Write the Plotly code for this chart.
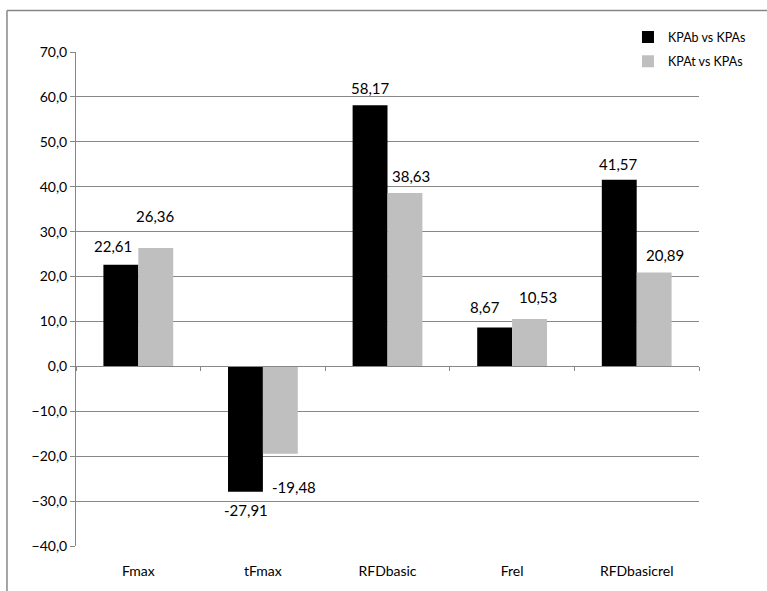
import plotly.graph_objects as go

# Percentage differences between the KPA conditions
categories = ["Fmax", "tFmax", "RFDbasic", "Frel", "RFDbasicrel"]
kpab_vs_kpas = [22.61, -27.91, 58.17, 8.67, 41.57]
kpat_vs_kpas = [26.36, -19.48, 38.63, 10.53, 20.89]
series_names = ["KPAb vs KPAs", "KPAt vs KPAs"]
y_ticks = list(range(-40, 71, 10))

# Pixel nudges for the value labels (dx right, dy away from the bar end)
label_nudge_b = [(-8, 19), (1, 18), (0, 17), (-10, 20), (-1, 16)]
label_nudge_t = [(0, 32), (14, 33), (6, 17), (8, 22), (11, 18)]

GRID = "#878787"
FONT = "Lato"
Y_MIN, Y_MAX = -40, 70

fig = go.Figure()
fig.add_trace(go.Bar(x=categories, y=kpab_vs_kpas, name=series_names[0],
                     marker=dict(color="#000000", line=dict(width=0)),
                     legendgroup="a"))
fig.add_trace(go.Bar(x=categories, y=kpat_vs_kpas, name=series_names[1],
                     marker=dict(color="#BFBFBF", line=dict(width=0)),
                     legendgroup="b"))
# carrier for the axis drawn along the zero line
fig.add_trace(go.Scatter(x=categories, y=[0] * len(categories), xaxis="x2",
                         mode="markers", marker=dict(opacity=0),
                         hoverinfo="skip", showlegend=False))

annotations = []
for values, nudges, shift in ((kpab_vs_kpas, label_nudge_b, -17.5),
                              (kpat_vs_kpas, label_nudge_t, 17.5)):
    for cat, v, (dx, dy) in zip(categories, values, nudges):
        annotations.append(dict(
            x=cat, y=v, xref="x", yref="y", showarrow=False,
            text=f"{v:.2f}".replace(".", ","),
            xshift=shift + dx, yshift=dy if v >= 0 else -dy,
            xanchor="center", yanchor="middle",
            font=dict(family=FONT, size=15, color="#000000")))
fig.update_layout(annotations=annotations)

zero_pos = (0 - Y_MIN) / (Y_MAX - Y_MIN)

fig.update_layout(
    width=767, height=591,
    margin=dict(l=76, r=68, t=52, b=39),
    paper_bgcolor="white", plot_bgcolor="white",
    separators=", ",
    barmode="group", bargap=0.44, bargroupgap=0,
    font=dict(family=FONT, size=13, color="#000000"),
    xaxis=dict(type="category", categoryarray=categories, range=[-0.5, 4.5],
               showline=False, showgrid=False, ticks="", zeroline=False,
               ticklabelstandoff=15, tickfont=dict(size=14)),
    xaxis2=dict(type="category", categoryarray=categories, range=[-0.5, 4.5],
                overlaying="x", anchor="free", position=zero_pos,
                showline=True, linecolor=GRID, linewidth=1,
                ticks="outside", ticklen=4, tickcolor=GRID, tickson="boundaries",
                showticklabels=False, showgrid=False, zeroline=False),
    yaxis=dict(range=[Y_MIN, Y_MAX], tickvals=y_ticks, tickformat=".1f",
               showline=True, linecolor=GRID, linewidth=1,
               ticks="outside", ticklen=5, tickcolor=GRID,
               showgrid=True, gridcolor=GRID, gridwidth=1, zeroline=False,
               tickfont=dict(size=14)),
    legend=dict(x=0.886, y=1.06, xanchor="left", yanchor="top",
                bgcolor="white", borderwidth=0, tracegroupgap=5,
                font=dict(family=FONT, size=12.5)),
    shapes=[
        dict(type="line", xref="paper", yref="paper",
             x0=-0.1108, x1=1.3, y0=1.084, y1=1.084,
             line=dict(color=GRID, width=1.5)),
        dict(type="line", xref="paper", yref="paper",
             x0=-0.1108, x1=-0.1108, y0=1.084, y1=-0.3,
             line=dict(color=GRID, width=1.5)),
    ],
)

fig.write_html("out.html")
